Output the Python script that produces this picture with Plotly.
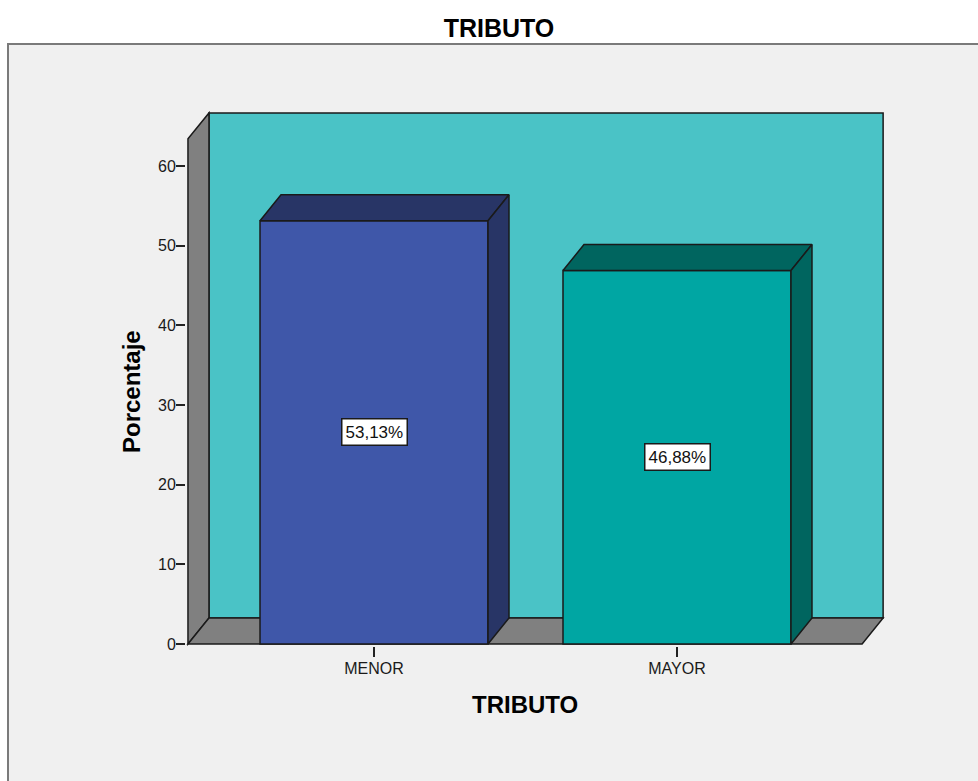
import plotly.graph_objects as go

# ---- data ----
categories = ["MENOR", "MAYOR"]
values = [53.13, 46.88]
front_colors = ["#3F57A9", "#00A6A3"]
shade_colors = ["#283566", "#00655F"]
y_ticks = [0, 10, 20, 30, 40, 50, 60]

# ---- geometry (axis units) ----
BAR_W = 0.7525      # bar width in category units
DX = 0.0693         # depth offset, x
DY = 3.26           # depth offset, y
X0 = -0.614         # left edge of floor/left wall
X1 = 1.611          # right front edge of floor
WALL_TOP = 63.4     # height of the side wall (front)
XR = [-0.6205, 1.6898]
YR = [-0.251, 66.90]

W, H = 978, 781
ML, MR, MT, MB = 186, 92, 111, 135
PW, PH = W - ML - MR, H - MT - MB

def px_to_paper_x(px):
    return (px - ML) / PW

def px_to_paper_y(py):
    return (H - MB - py) / PH

edge = dict(color="#1a1a1a", width=1.5)
FONT = "Liberation Sans"

fig = go.Figure()

shapes = []
# outer gray panel with border
shapes.append(dict(type="rect", xref="paper", yref="paper",
                   x0=px_to_paper_x(8), x1=px_to_paper_x(1010),
                   y0=px_to_paper_y(820), y1=px_to_paper_y(44),
                   fillcolor="#F0F0F0", line=dict(color="#7A7A7A", width=2),
                   layer="below"))
# back wall
shapes.append(dict(type="path", xref="x", yref="y", layer="below",
                   path=f"M {X0+DX},{DY} L {X1+DX},{DY} L {X1+DX},{WALL_TOP+DY} L {X0+DX},{WALL_TOP+DY} Z",
                   fillcolor="#4AC3C6", line=edge))
# left wall
shapes.append(dict(type="path", xref="x", yref="y", layer="below",
                   path=f"M {X0},0 L {X0+DX},{DY} L {X0+DX},{WALL_TOP+DY} L {X0},{WALL_TOP} Z",
                   fillcolor="#808080", line=edge))
# floor
shapes.append(dict(type="path", xref="x", yref="y", layer="below",
                   path=f"M {X0},0 L {X1},0 L {X1+DX},{DY} L {X0+DX},{DY} Z",
                   fillcolor="#808080", line=edge))

# bars (front faces)
for i, (c, v) in enumerate(zip(categories, values)):
    fig.add_trace(go.Bar(x=[i], y=[v], width=BAR_W,
                         marker=dict(color=front_colors[i], line=edge),
                         hoverinfo="skip", showlegend=False))

# 3D top and side faces
for i, v in enumerate(values):
    l, r = i - BAR_W / 2, i + BAR_W / 2
    fig.add_trace(go.Scatter(x=[l, l + DX, r + DX, r, l], y=[v, v + DY, v + DY, v, v],
                             fill="toself", fillcolor=shade_colors[i], mode="lines",
                             line=edge, hoverinfo="skip", showlegend=False))
    fig.add_trace(go.Scatter(x=[r, r + DX, r + DX, r, r], y=[0, DY, v + DY, v, 0],
                             fill="toself", fillcolor=shade_colors[i], mode="lines",
                             line=edge, hoverinfo="skip", showlegend=False))

annotations = []
for i, v in enumerate(values):
    annotations.append(dict(x=i, y=v / 2, xref="x", yref="y",
                            text=f"{v:.2f}".replace(".", ",") + "%",
                            showarrow=False, bgcolor="white",
                            bordercolor="#1a1a1a", borderwidth=1.5, borderpad=3,
                            font=dict(family=FONT, size=17, color="#111")))
# axis titles
annotations.append(dict(x=px_to_paper_x(131), y=px_to_paper_y(392), xref="paper", yref="paper",
                        xanchor="center", yanchor="middle",
                        text="<b>Porcentaje</b>", textangle=-90, showarrow=False,
                        font=dict(family=FONT, size=24, color="#000")))
annotations.append(dict(x=px_to_paper_x(525), y=px_to_paper_y(704), xref="paper", yref="paper",
                        xanchor="center", yanchor="middle",
                        text="<b>TRIBUTO</b>", showarrow=False,
                        font=dict(family=FONT, size=24, color="#000")))

fig.update_layout(
    width=W, height=H,
    margin=dict(l=ML, r=MR, t=MT, b=MB, pad=0),
    paper_bgcolor="white", plot_bgcolor="#F0F0F0",
    title=dict(text="<b>TRIBUTO</b>", x=499 / W, xref="container", xanchor="center",
               y=1 - 28 / H, yref="container", yanchor="middle",
               font=dict(family=FONT, size=25, color="#000")),
    shapes=shapes, annotations=annotations,
    showlegend=False,
    xaxis=dict(range=XR, tickvals=list(range(len(categories))), ticktext=categories,
               ticks="outside", ticklen=10, tickwidth=1.5, tickcolor="#222",
               showgrid=False, zeroline=False, showline=False, fixedrange=True,
               ticklabelstandoff=-2,
               tickfont=dict(family=FONT, size=16, color="#1a1a1a")),
    yaxis=dict(range=YR, tickvals=y_ticks, ticks="outside", ticklen=9, tickwidth=1.5,
               tickcolor="#222", showgrid=False, zeroline=False, showline=False,
               fixedrange=True, ticklabelstandoff=-3,
               tickfont=dict(family=FONT, size=16, color="#1a1a1a")),
)

fig.write_html("out.html")
